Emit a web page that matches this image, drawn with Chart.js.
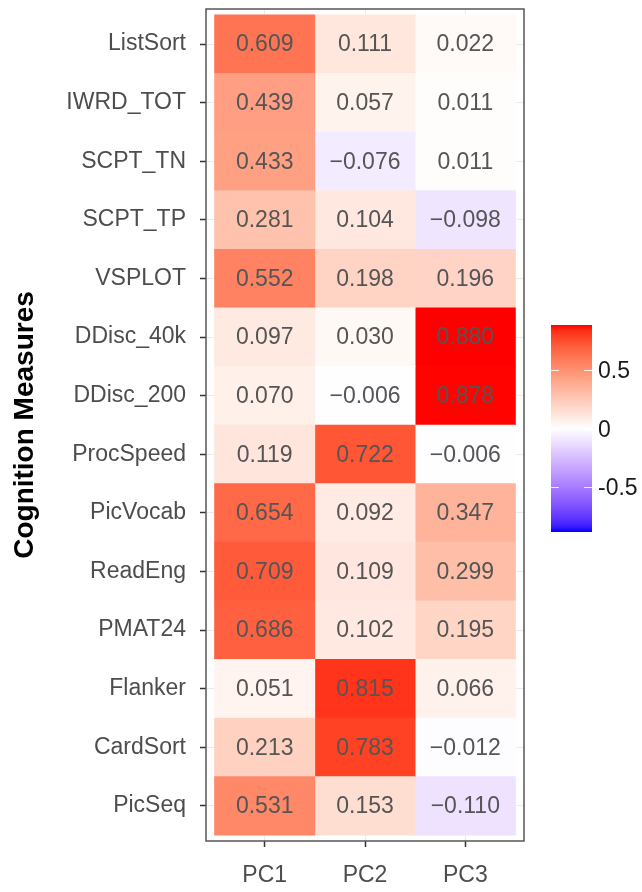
<!DOCTYPE html>
<html>
<head>
<meta charset="utf-8">
<script src="https://cdn.jsdelivr.net/npm/chart.js@4/dist/chart.umd.min.js"></script>
<style>
  html, body { margin: 0; padding: 0; background: #fff; }
  canvas { display: block; }
</style>
</head>
<body>
<canvas id="myChart" width="642" height="892"></canvas>
<script>
// data
const measures = ['ListSort', 'IWRD_TOT', 'SCPT_TN', 'SCPT_TP', 'VSPLOT', 'DDisc_40k', 'DDisc_200',
                  'ProcSpeed', 'PicVocab', 'ReadEng', 'PMAT24', 'Flanker', 'CardSort', 'PicSeq'];
const components = ['PC1', 'PC2', 'PC3'];
const pc1 = [0.609, 0.439, 0.433, 0.281, 0.552, 0.097, 0.070, 0.119, 0.654, 0.709, 0.686, 0.051, 0.213, 0.531];
const pc2 = [0.111, 0.057, -0.076, 0.104, 0.198, 0.030, -0.006, 0.722, 0.092, 0.109, 0.102, 0.815, 0.783, 0.153];
const pc3 = [0.022, 0.011, 0.011, -0.098, 0.196, 0.880, 0.878, -0.006, 0.347, 0.299, 0.195, 0.066, -0.012, -0.110];
const legendTicks = [0.5, 0, -0.5];
const limit = 0.88;

const FONT = '"Liberation Sans", Arial, sans-serif';

// colour helpers: blue - white - red, interpolated in Lab like ggplot
function toLinear(c) { c /= 255; return c <= 0.04045 ? c / 12.92 : Math.pow((c + 0.055) / 1.055, 2.4); }
function fromLinear(c) {
  c = c <= 0.0031308 ? 12.92 * c : 1.055 * Math.pow(c, 1 / 2.4) - 0.055;
  return Math.round(Math.max(0, Math.min(1, c)) * 255);
}
function rgbToLab(rgb) {
  const [r, g, b] = rgb.map(toLinear);
  const X = (0.4124 * r + 0.3576 * g + 0.1805 * b) / 0.95047;
  const Y = (0.2126 * r + 0.7152 * g + 0.0722 * b);
  const Z = (0.0193 * r + 0.1192 * g + 0.9505 * b) / 1.08883;
  const f = t => t > 0.008856 ? Math.cbrt(t) : 7.787 * t + 16 / 116;
  const fx = f(X), fy = f(Y), fz = f(Z);
  return [116 * fy - 16, 500 * (fx - fy), 200 * (fy - fz)];
}
function labToRgb(lab) {
  const fy = (lab[0] + 16) / 116, fx = fy + lab[1] / 500, fz = fy - lab[2] / 200;
  const inv = t => t * t * t > 0.008856 ? t * t * t : (t - 16 / 116) / 7.787;
  const X = inv(fx) * 0.95047, Y = inv(fy), Z = inv(fz) * 1.08883;
  const r = 3.2406 * X - 1.5372 * Y - 0.4986 * Z;
  const g = -0.9689 * X + 1.8758 * Y + 0.0415 * Z;
  const b = 0.0557 * X - 0.2040 * Y + 1.0570 * Z;
  return 'rgb(' + fromLinear(r) + ',' + fromLinear(g) + ',' + fromLinear(b) + ')';
}
const labLow = rgbToLab([0, 0, 255]);
const labMid = rgbToLab([255, 255, 255]);
const labHigh = rgbToLab([255, 0, 0]);
function fillColor(v) {
  let t = Math.max(-1, Math.min(1, v / limit));
  const end = t >= 0 ? labHigh : labLow;
  t = Math.abs(t);
  return labToRgb(labMid.map((m, i) => m + (end[i] - m) * t));
}

function tiles(values, col) {
  return values.map((v, i) => ({ y: i + 0.5, x: [col, col + 1] }));
}
const columns = [pc1, pc2, pc3];

// value labels, panel border and colour bar
const heatmapExtras = {
  id: 'heatmapExtras',
  afterDatasetsDraw(chart) {
    const { ctx, chartArea: { top, bottom, left, right } } = chart;
    ctx.save();
    ctx.font = '23px ' + FONT;
    ctx.fillStyle = '#555555';
    ctx.textAlign = 'center';
    ctx.textBaseline = 'middle';
    columns.forEach((vals, d) => {
      chart.getDatasetMeta(d).data.forEach((bar, i) => {
        const p = bar.getCenterPoint();
        const v = vals[i];
        const txt = (v < 0 ? '\u2212' : '') + Math.abs(v).toFixed(3);
        ctx.fillText(txt, p.x, p.y + 1);
      });
    });
    ctx.strokeStyle = '#555555';
    ctx.lineWidth = 1.5;
    ctx.strokeRect(left, top, right - left, bottom - top);
    ctx.restore();
  },
  afterDraw(chart) {
    const { ctx } = chart;
    const bx = 551, bw = 41, by = 325, bh = 207;
    const mid = by + bh / 2;
    const yOf = v => mid - v / limit * (bh / 2);
    ctx.save();
    const grad = ctx.createLinearGradient(0, by, 0, by + bh);
    for (let k = 0; k <= 40; k++) {
      const v = limit - (2 * limit) * k / 40;
      grad.addColorStop(k / 40, fillColor(v));
    }
    ctx.fillStyle = grad;
    ctx.fillRect(bx, by, bw, bh);
    ctx.strokeStyle = 'rgba(255,255,255,0.85)';
    ctx.lineWidth = 1;
    ctx.font = '23px ' + FONT;
    ctx.fillStyle = '#1a1a1a';
    ctx.textAlign = 'left';
    ctx.textBaseline = 'middle';
    legendTicks.forEach(v => {
      const y = Math.round(yOf(v)) + 0.5;
      ctx.beginPath();
      ctx.moveTo(bx, y); ctx.lineTo(bx + 8, y);
      ctx.moveTo(bx + bw - 8, y); ctx.lineTo(bx + bw, y);
      ctx.stroke();
      ctx.fillText(String(v), 598, y + 1);
    });
    ctx.restore();
  }
};

const config = {
  type: 'bar',
  data: {
    datasets: columns.map((vals, c) => ({
      label: components[c],
      data: tiles(vals, c),
      backgroundColor: vals.map(fillColor),
      borderWidth: 0,
      barPercentage: 1,
      categoryPercentage: 1,
      grouped: false,
    })),
  },
  options: {
    indexAxis: 'y',
    responsive: false,
    animation: false,
    layout: { padding: { top: 9, right: 118, bottom: 0, left: 0 } },
    plugins: {
      legend: { display: false },
      tooltip: { enabled: false },
    },
    scales: {
      y: {
        type: 'linear',
        reverse: true,
        offset: false,
        min: -0.1,
        max: 14.1,
        afterBuildTicks: scale => { scale.ticks = measures.map((m, i) => ({ value: i + 0.5 })); },
        afterFit: scale => { scale.width = 206; scale.paddingTop = 0; scale.paddingBottom = 0; },
        ticks: {
          callback: (value, index) => measures[index],
          font: { family: FONT, size: 23 },
          color: '#4d4d4d',
          padding: 14,
          autoSkip: false,
        },
        grid: { offset: false, color: '#ebebeb', lineWidth: 1, tickColor: '#333333', tickLength: 6, tickWidth: 1.5 },
        border: { display: false },
        title: {
          display: true,
          text: 'Cognition Measures',
          font: { family: FONT, size: 28, weight: 'bold' },
          color: '#000000',
          padding: { top: 8, bottom: 0 },
        },
      },
      x: {
        type: 'linear',
        offset: false,
        min: -0.085,
        max: 3.085,
        afterBuildTicks: scale => { scale.ticks = components.map((c, i) => ({ value: i + 0.5 })); },
        afterFit: scale => { scale.height = 51; scale.paddingLeft = 0; scale.paddingRight = 0; },
        ticks: {
          callback: (value, index) => components[index],
          font: { family: FONT, size: 23 },
          color: '#4d4d4d',
          padding: 15,
          maxRotation: 0,
          autoSkip: false,
        },
        grid: { offset: false, color: '#ebebeb', lineWidth: 1, tickColor: '#333333', tickLength: 6, tickWidth: 1.5 },
        border: { display: false },
      },
    },
  },
  plugins: [heatmapExtras],
};

const myChart = new Chart(document.getElementById('myChart'), config);
</script>
</body>
</html>
